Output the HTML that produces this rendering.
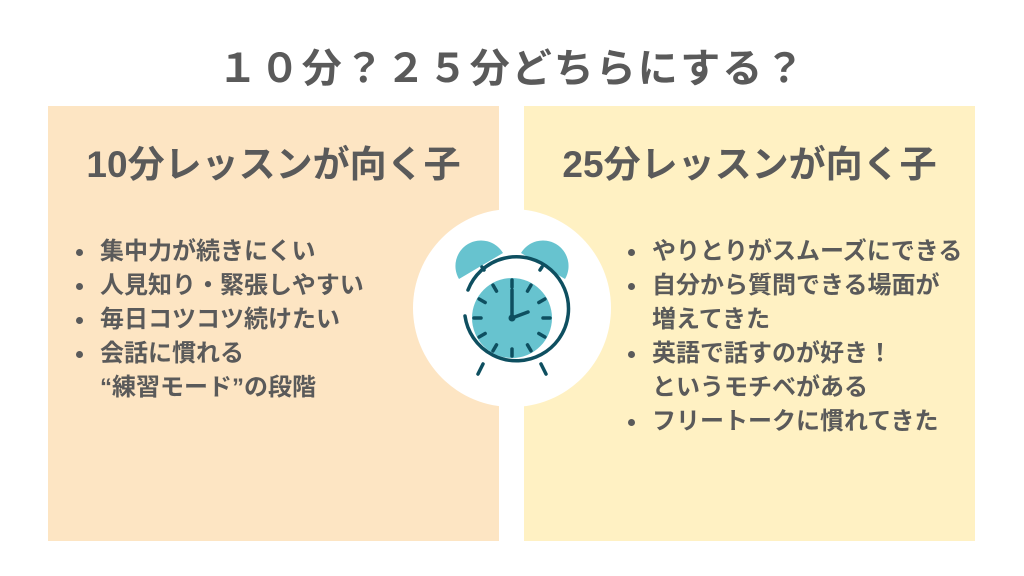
<!DOCTYPE html>
<html><head><meta charset="utf-8"><style>
body{margin:0;width:1024px;height:576px;background:#fff;position:relative;overflow:hidden;font-family:"Liberation Sans","Noto Sans CJK JP",sans-serif;color:#5a5a5a}
.t{position:absolute;left:0;width:1024px;top:44px;text-align:center;font-size:40px;line-height:50px;font-weight:bold;letter-spacing:2px}
.p{position:absolute;top:106px;height:435px;width:451px}
.h{position:absolute;top:142px;font-size:37px;line-height:46px;font-weight:bold;width:451px;text-align:center}
ul{position:absolute;margin:0;padding:0;list-style:none;font-size:24px;font-weight:bold;line-height:34px;white-space:nowrap}
li{position:relative;padding-left:26px}
li:before{content:"";position:absolute;left:2px;top:14px;width:7px;height:7px;border-radius:50%;background:#5a5a5a}
</style></head><body>
<div class="t">１０分？２５分どちらにする？</div>
<div class="p" style="left:48px;background:#fde5c3"></div>
<div class="p" style="left:524px;background:#fff1c3"></div>
<div class="h" style="left:48px">10分レッスンが向く子</div>
<div class="h" style="left:524px">25分レッスンが向く子</div>
<ul style="left:74px;top:235px">
<li>集中力が続きにくい</li><li>人見知り・緊張しやすい</li><li>毎日コツコツ続けたい</li><li>会話に慣れる<br>“練習モード”の段階</li></ul>
<ul style="left:626px;top:235px">
<li>やりとりがスムーズにできる</li><li>自分から質問できる場面が<br>増えてきた</li><li>英語で話すのが好き！<br>というモチベがある</li><li>フリートークに慣れてきた</li></ul>
<svg style="position:absolute;left:0;top:0" width="1024" height="576">
<circle cx="512" cy="308" r="99" fill="#fff"/>
<path d="M459,279 A24,24 0 0 1 503,253 Z" fill="#67c3cf"/>
<path d="M565,279 A24,24 0 0 0 521,253 Z" fill="#67c3cf"/>
<circle cx="512" cy="318" r="40" fill="#67c3cf"/>
<g stroke="#0e4f60" stroke-width="3.5" stroke-linecap="round" fill="none">
<path d="M465,316 A52,52 0 1 0 468,290"/>
<line x1="483" y1="364" x2="478" y2="374"/><line x1="541" y1="364" x2="546" y2="374"/>
<line x1="484" y1="270" x2="482" y2="267"/><line x1="540" y1="270" x2="542" y2="267"/>
<line x1="512" y1="318" x2="512" y2="290"/><line x1="512" y1="318" x2="528" y2="312"/>
<g id="tk">
<line x1="512" y1="280" x2="512" y2="287"/>
</g>
<use href="#tk" transform="rotate(30 512 318)"/><use href="#tk" transform="rotate(60 512 318)"/><use href="#tk" transform="rotate(90 512 318)"/><use href="#tk" transform="rotate(120 512 318)"/><use href="#tk" transform="rotate(150 512 318)"/><use href="#tk" transform="rotate(180 512 318)"/><use href="#tk" transform="rotate(210 512 318)"/><use href="#tk" transform="rotate(240 512 318)"/><use href="#tk" transform="rotate(270 512 318)"/><use href="#tk" transform="rotate(300 512 318)"/><use href="#tk" transform="rotate(330 512 318)"/>
</g>
<circle cx="512" cy="318" r="3.5" fill="#0e4f60"/>
</svg>
</body></html>
